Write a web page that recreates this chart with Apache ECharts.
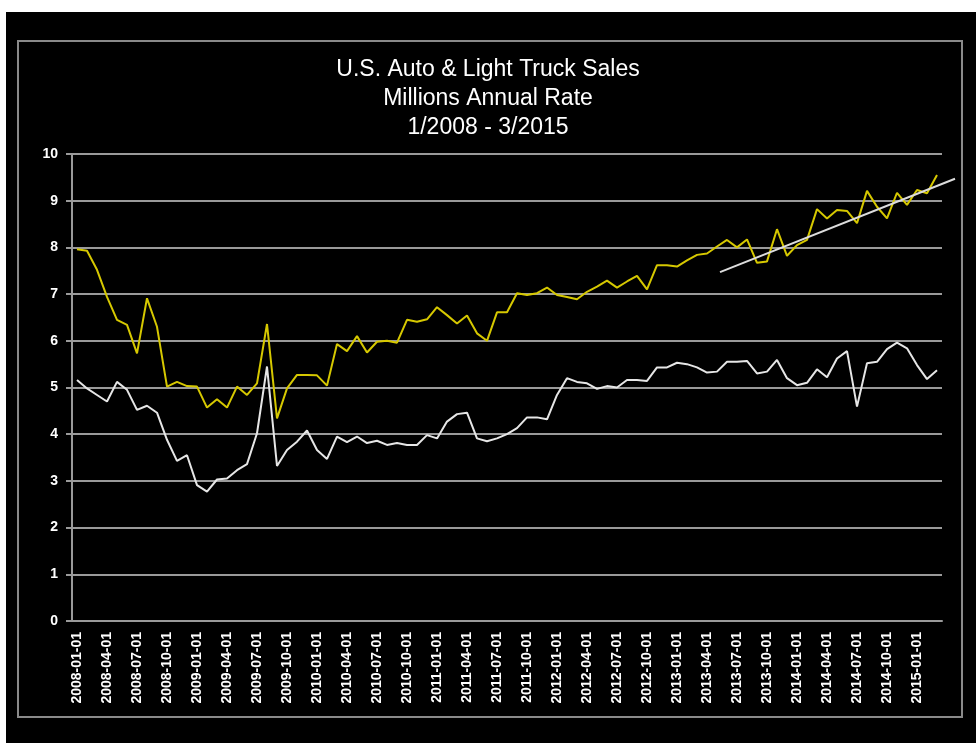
<!DOCTYPE html>
<html>
<head>
<meta charset="utf-8">
<script src="https://cdn.jsdelivr.net/npm/echarts@6/dist/echarts.min.js"></script>
<style>
	html, body { margin: 0; padding: 0; background: #fff; }
	#chart { width: 976px; height: 743px; }
</style>
</head>
<body>
<div id="chart"></div>
<script>
// monthly points, 1/2008 - 3/2015
var startYear = 2008
var monthCount = 87

// upper (yellow) series
var yellowValues = [
	7.96, 7.93, 7.52, 6.94, 6.45, 6.34, 5.73, 6.91, 6.30, 5.02, 5.12, 5.03,
	5.02, 4.57, 4.75, 4.57, 5.02, 4.84, 5.09, 6.36, 4.34, 4.98, 5.27, 5.27,
	5.26, 5.04, 5.93, 5.78, 6.10, 5.75, 5.98, 6.00, 5.96, 6.45, 6.41, 6.46,
	6.72, 6.55, 6.37, 6.54, 6.16, 6.00, 6.61, 6.61, 7.02, 6.98, 7.02, 7.14,
	6.98, 6.94, 6.89, 7.05, 7.16, 7.29, 7.14, 7.27, 7.39, 7.10, 7.62, 7.62,
	7.59, 7.72, 7.84, 7.87, 8.02, 8.16, 8.00, 8.17, 7.67, 7.70, 8.39, 7.82,
	8.05, 8.16, 8.82, 8.62, 8.80, 8.78, 8.52, 9.21, 8.87, 8.62, 9.17, 8.91,
	9.23, 9.16, 9.55
]

// lower (white) series
var whiteValues = [
	5.16, 4.98, 4.84, 4.70, 5.12, 4.95, 4.52, 4.61, 4.46, 3.88, 3.43, 3.55,
	2.91, 2.77, 3.03, 3.05, 3.23, 3.36, 4.02, 5.45, 3.32, 3.66, 3.84, 4.08,
	3.66, 3.47, 3.95, 3.83, 3.95, 3.81, 3.86, 3.77, 3.81, 3.77, 3.77, 3.98,
	3.91, 4.27, 4.43, 4.46, 3.91, 3.85, 3.91, 4.00, 4.13, 4.36, 4.36, 4.32,
	4.84, 5.20, 5.12, 5.09, 4.97, 5.03, 5.00, 5.16, 5.16, 5.14, 5.43, 5.43,
	5.53, 5.50, 5.43, 5.32, 5.34, 5.55, 5.55, 5.57, 5.30, 5.34, 5.59, 5.20,
	5.05, 5.10, 5.39, 5.22, 5.62, 5.78, 4.59, 5.52, 5.55, 5.82, 5.96, 5.84,
	5.48, 5.18, 5.37
]

// linear trend line on the yellow series (month index, value)
// it runs a little past the last month, like the spreadsheet forecast
var trendLine = [[64.3, 7.47], [87.8, 9.47]]
var trendEnd = 87.8

var yTicks = [0, 10, 1] // min, max, step

var categories = []
for (var i = 0; i < monthCount; i++) {
	var y = startYear + Math.floor(i / 12)
	var m = (i % 12) + 1
	categories.push(y + '-' + (m < 10 ? '0' + m : m) + '-01')
}

var gridGray = '#9a9a9a'
var font = 'Liberation Sans, Arial, sans-serif'

var myChart = echarts.init(document.getElementById('chart'))

var option = {
	backgroundColor: '#fff',
	animation: false,
	title: {
		text: 'U.S. Auto & Light Truck Sales\nMillions Annual Rate\n1/2008 - 3/2015',
		left: 'center',
		top: 50,
		textStyle: {
			color: '#fff',
			fontFamily: font,
			fontWeight: 'normal',
			fontSize: 23,
			lineHeight: 29
		}
	},
	graphic: [
		{ // black chart area
			type: 'rect',
			z: -10,
			shape: { x: 6, y: 12, width: 970, height: 731 },
			style: { fill: '#000' }
		},
		{ // outer frame
			type: 'rect',
			z: -5,
			shape: { x: 18, y: 41, width: 944, height: 676 },
			style: { fill: 'none', stroke: '#8a8a8a', lineWidth: 2 }
		}
	],
	grid: [
		{ left: 72, right: 34, top: 154, bottom: 122 },
		// same plot, widened to the right so the trend line can run past the last month
		{ left: 72, right: 976 - 72 - (trendEnd + 0.5) * 10, top: 154, bottom: 122 }
	],
	xAxis: [{
		type: 'category',
		gridIndex: 0,
		data: categories,
		boundaryGap: true,
		axisLine: { lineStyle: { color: gridGray, width: 2 } },
		axisTick: {
			interval: 2,
			length: 4,
			lineStyle: { color: gridGray, width: 1 }
		},
		axisLabel: {
			interval: 2,
			rotate: 90,
			margin: 11,
			color: '#fff',
			fontFamily: font,
			fontWeight: 'bold',
			fontSize: 14
		},
		splitLine: { show: false }
	}, {
		type: 'value',
		gridIndex: 1,
		min: -0.5,
		max: trendEnd,
		show: false
	}],
	yAxis: [{
		type: 'value',
		gridIndex: 0,
		min: yTicks[0],
		max: yTicks[1],
		interval: yTicks[2],
		axisLine: { show: true, lineStyle: { color: gridGray, width: 2 } },
		axisTick: { show: true, length: 6, lineStyle: { color: gridGray, width: 2 } },
		axisLabel: {
			margin: 14,
			color: '#fff',
			fontFamily: font,
			fontWeight: 'bold',
			fontSize: 14
		},
		splitLine: { lineStyle: { color: gridGray, width: 2 } }
	}, {
		type: 'value',
		gridIndex: 1,
		min: yTicks[0],
		max: yTicks[1],
		show: false
	}],
	series: [
		{
			name: 'Light Truck',
			type: 'line',
			data: yellowValues,
			symbol: 'none',
			lineStyle: { color: '#d6c800', width: 2 },
			z: 3
		},
		{
			name: 'Auto',
			type: 'line',
			data: whiteValues,
			symbol: 'none',
			lineStyle: { color: '#e6e6e6', width: 2 },
			z: 3
		},
		{
			name: 'Trend',
			type: 'line',
			xAxisIndex: 1,
			yAxisIndex: 1,
			data: trendLine,
			symbol: 'none',
			lineStyle: { color: '#dcdcdc', width: 2 },
			z: 4
		}
	]
}

myChart.setOption(option)
</script>
</body>
</html>
